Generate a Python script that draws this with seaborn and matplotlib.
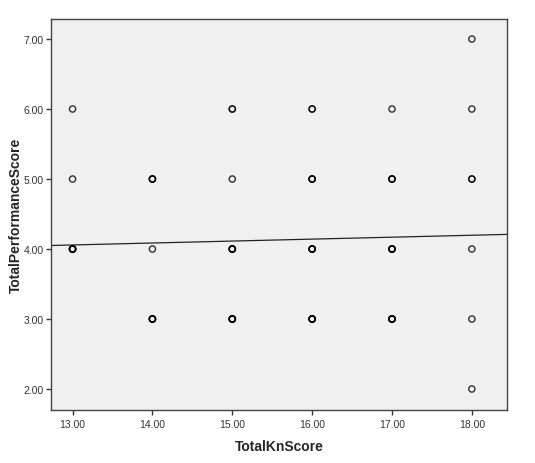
import numpy as np
import pandas as pd
import seaborn as sns
import matplotlib.pyplot as plt
from matplotlib.ticker import FormatStrFormatter

# knowledge score, performance score and how many cases sit on each spot
kn_score = [13, 13, 13,
            14, 14, 14,
            15, 15, 15, 15,
            16, 16, 16, 16,
            17, 17, 17, 17,
            18, 18, 18, 18, 18, 18]
perf_score = [6, 5, 4,
              5, 4, 3,
              6, 5, 4, 3,
              6, 5, 4, 3,
              6, 5, 4, 3,
              7, 6, 5, 4, 3, 2]
n_cases = [1, 1, 5,
           3, 1, 4,
           2, 1, 4, 5,
           2, 3, 4, 5,
           1, 3, 4, 5,
           1, 1, 2, 1, 1, 1]

df = pd.DataFrame({'TotalKnScore': np.repeat(kn_score, n_cases),
                   'TotalPerformanceScore': np.repeat(perf_score, n_cases)})

sns.set_style('ticks')
plt.rcParams['font.family'] = ['Liberation Sans', 'DejaVu Sans']

fig = plt.figure(figsize=(5.35, 4.64), dpi=100)
ax = fig.add_axes([51/535, 1-411/464, 456/535, 391/464])
ax.set_facecolor('#f0f0f0')
ax.set_xlim(12.73, 18.44)
ax.set_ylim(1.7, 7.286)

sns.regplot(data=df, x='TotalKnScore', y='TotalPerformanceScore', ax=ax,
            ci=None, truncate=False,
            scatter_kws=dict(s=20, facecolors='none', edgecolors=(0, 0, 0, 0.55),
                             linewidths=1.0),
            line_kws=dict(color='#222222', lw=0.9))

ax.set_xticks([13, 14, 15, 16, 17, 18])
ax.set_yticks([2, 3, 4, 5, 6, 7])
ax.xaxis.set_major_formatter(FormatStrFormatter('%.2f'))
ax.yaxis.set_major_formatter(FormatStrFormatter('%.2f'))
ax.tick_params(labelsize=7.5, length=3.5, width=1, pad=1.5, color='#333333', labelcolor='#333333')
ax.tick_params(axis='x', pad=3)
for s in ax.spines.values():
    s.set_color('#444444')
    s.set_linewidth(1)
ax.set_xlabel('TotalKnScore', fontsize=10, fontweight='bold')
ax.set_ylabel('TotalPerformanceScore', fontsize=10, fontweight='bold')
ax.xaxis.set_label_coords(0.5, -29/391)
ax.yaxis.set_label_coords(-28/456, 0.5)

fig.savefig('out.png', dpi=100)
